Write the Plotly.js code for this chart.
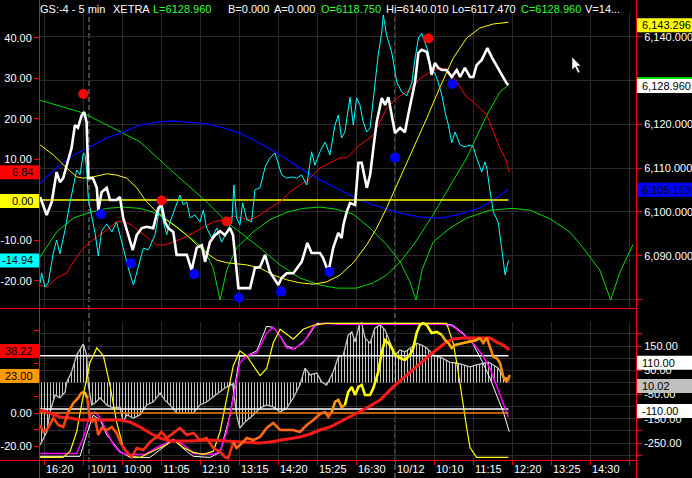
<!DOCTYPE html>
<html><head><meta charset="utf-8">
<script src="https://cdn.plot.ly/plotly-3.0.1.min.js"></script>
<style>html,body{margin:0;padding:0;background:#000;}#chart{width:692px;height:478px;}</style>
</head><body><div id="chart"></div>
<script>
// ---------------- DATA (x = 5-minute bar index, 0 = 10/10 16:20) ----------------
const xTickVals = [0,15,26,39,52,65,78,91,104,117,130,143,156,169,182];
const xTickText = ['16:20','10/11','10:00','11:05','12:10','13:15','14:20','15:25','16:30','10/12','10:10','11:15','12:20','13:25','14:30'];
const gridVals = [0,13,26,39,52,65,78,91,104,117,130,143,156,169,182,195];
const daySeparators = [15,117];

const headerParts = ['GS:-4 - 5 min','XETRA','L=6128.960','B=0.000','A=0.000','O=6118.750','Hi=6140.010','Lo=6117.470','C=6128.960','V=14...'];
const headerGreen = [false,false,true,false,false,true,false,false,true,false];

// price (right scale)
const price = [[-1.3,6103.4],[0.9,6099.3],[2.6,6102.3],[4.2,6109.1],[5.3,6106.8],[6.4,6107.7],[7.6,6110.7],[9.2,6114.6],[10.3,6119.8],[11.3,6119.2],[12.6,6122.1],[13.4,6122.8],[14.2,6120.5],[14.8,6107.7],[16.3,6107.7],[17.6,6105.5],[18.1,6100.4],[19.2,6104.5],[20.9,6105.5],[22,6102.7],[24.2,6102.7],[25.3,6103.4],[26.4,6098.6],[28.1,6094.7],[29.6,6091.3],[30.9,6094.7],[32.6,6096.3],[34.2,6096.6],[36.4,6096.3],[38.1,6100.9],[39.2,6101.6],[40.3,6097.7],[41.4,6096.3],[43.1,6095.4],[44.2,6090.2],[47.6,6090.2],[49.2,6086.7],[50.9,6091.8],[52.6,6092.4],[53.7,6088.6],[55.3,6093.1],[57,6094.7],[58.7,6095.6],[60.3,6094.7],[62,6096.3],[63,6094.7],[64.2,6086.7],[64.8,6082.6],[68.7,6082.6],[70.3,6087.2],[72,6087.4],[73.7,6090.2],[75.3,6086.3],[78.1,6083.3],[79.2,6084.9],[80.9,6086],[83.1,6086],[85.9,6088.6],[87.8,6092.9],[89.2,6090.6],[92,6090.6],[93,6089.5],[94.8,6086.3],[96.4,6091.8],[98.1,6095.2],[99.2,6094],[99.8,6097],[100.9,6100],[102,6102],[103.7,6101.6],[104.8,6111.2],[105.9,6111.2],[107.6,6105.5],[108.7,6108.4],[109.8,6114.6],[110.9,6120.5],[112.6,6126],[113.7,6124.4],[114.8,6126.2],[115.9,6122.1],[117,6118],[118.7,6119.2],[120.3,6118.2],[121.4,6122.1],[122.6,6126],[123.7,6129.7],[124.8,6136.3],[125.9,6137],[127.6,6136.5],[128.7,6133.5],[129.2,6131.3],[130.3,6134],[131.4,6132.9],[132.6,6132.4],[134.2,6132.4],[135.9,6130.8],[137.6,6132.4],[138.7,6130.8],[140.3,6132.9],[142,6130.8],[143.1,6130.8],[144.2,6133.5],[145.9,6134.7],[147.8,6137.4],[149.2,6135.4],[150.9,6133.5],[152.6,6131.3],[154.2,6129.4],[154.8,6128.96]];

// cyan oscillator (left scale)
const cyanOsc = [[-1.3,-20.5],[-0.8,-18.0],[0.3,-21.5],[1.4,-20.5],[3.1,-13.1],[4.2,-9.9],[5.3,-13.3],[7,-7.4],[8.7,-0.5],[10.9,7.4],[12,6.2],[13.1,11.6],[13.7,11.1],[14.2,7.4],[14.8,0],[15.9,-4.2],[17,-8.1],[18.1,-13.8],[19.2,-7.7],[20.9,-5.9],[22.6,-7.9],[24.2,-5.4],[25.9,-10.4],[28.1,-16.8],[29.8,-21],[31.4,-16.8],[33.1,-11.9],[34.8,-12.3],[37,-8.6],[38.7,-1.2],[39.8,-5.4],[40.9,-8.6],[42,-5.4],[43.7,-2],[45.3,1.2],[46.4,-1.2],[47.6,-0.5],[48.7,-4.4],[50.3,-3.7],[52,-5.4],[53.1,-2.5],[54.2,-6.9],[55.9,-9.4],[57.6,-6.9],[59.2,-10.4],[60.9,-7.9],[62.6,-5.4],[63.3,3.7],[64.2,-4.4],[65.3,-6.2],[66.2,-0.7],[67.6,-4.9],[69.2,-5.4],[70.3,2.5],[72,3],[73.7,8.1],[75.3,10.4],[77,11.6],[79.2,6.2],[80.9,5.4],[82.6,5.7],[84.2,5.4],[85.9,6.2],[87.6,3.7],[89.2,11.9],[90.3,8.6],[92,11.9],[93.7,14.3],[95.3,11.1],[97,18.5],[98.1,21],[99.2,15.3],[100.3,16.8],[102,25.4],[103.1,18.5],[104.2,25.2],[105.3,23.5],[106.4,19.3],[107.6,16.8],[108.7,17.8],[110.3,29.1],[111.4,35.8],[112.6,41.5],[113.1,45.7],[114.2,40.7],[115.9,36.5],[117.6,29.1],[119.2,26.7],[120.9,25.7],[122.6,28.9],[123.5,34.1],[124.8,40],[125.9,41.2],[127,39],[128.1,36.5],[129.2,31.6],[130.3,31.4],[131.4,29.1],[132.6,25.9],[133.7,21.7],[134.8,18.5],[135.9,14.1],[137,16.8],[138.7,13.6],[140.3,13.1],[142,13.6],[143.1,13.1],[144.2,10.4],[145.9,6.9],[147,9.4],[147.6,7.9],[148.7,2],[149.8,-3],[151.4,-5.4],[152.6,-12.8],[153.7,-18.5],[154.8,-14.94]];

// red average (left scale)
const redAvg = [[-1.3,-21],[0.9,-21.5],[4.2,-19.3],[7.6,-18],[9.8,-15.3],[13.1,-11.9],[15.3,-10.4],[18.1,-8.9],[20.9,-7.4],[24.2,-5.4],[26.4,-5.2],[29.2,-6.2],[32,-7.9],[34.8,-9.4],[37.6,-11.1],[40.3,-11.1],[43.1,-10.4],[46.4,-9.4],[49.8,-8.1],[53.1,-6.7],[56.4,-5.4],[59.8,-4.9],[63.1,-4],[65.3,-4.4],[68.7,-4.9],[72,-3.7],[75.3,-2],[78.7,-0.5],[82,2],[85.3,3.7],[88.7,5.4],[92,7.9],[95.3,9.1],[98.7,10.4],[100.9,10.4],[103.1,11.9],[105.3,13.6],[107.6,14.8],[109.8,16],[112,19.3],[114.2,22.7],[116.4,24.2],[118.7,25.7],[122,27.2],[125.3,29.9],[128.7,31.6],[132,32.6],[134.2,32.3],[135.9,30.9],[137.6,29.1],[139.2,27.2],[140.9,25.4],[143.1,24.2],[145.3,22.7],[147.6,21],[149.8,16.8],[152,12.8],[153.7,10.4],[155.1,6.84]];
const topZeroLevel = 0;

// smooth cycle curves (right scale)
const yellowCycle = [[-1.3,6115.3],[3.1,6113.0],[7.6,6110.0],[10.9,6108.0],[13.1,6107.7],[16.4,6108.0],[20.9,6108.7],[24.2,6108.4],[27.6,6107.7],[30.9,6105.5],[34.2,6102.3],[37.6,6100.0],[40.9,6098.2],[44.2,6096.6],[47.6,6094.7],[50.9,6092.5],[54.2,6090.6],[57.6,6089.0],[60.9,6088.4],[64.2,6088.1],[67.6,6087.9],[72,6087.2],[76.4,6085.6],[80.9,6084.5],[85.3,6083.8],[89.8,6083.5],[94.2,6084.0],[98.7,6085.6],[103.1,6088.4],[107.6,6092.5],[110.9,6096.3],[114.2,6100.9],[118.7,6107.7],[123.1,6114.6],[127.6,6121.4],[132,6128.5],[136.4,6135.1],[140.9,6139.7],[145.3,6142.0],[149.8,6142.9],[154.8,6143.296]];
const blueCycle = [[-1.3,6106.6],[4.2,6110.0],[9.8,6113.0],[15.3,6114.8],[20.9,6116.9],[26.4,6118.2],[32,6119.8],[37.6,6120.5],[43.1,6120.8],[48.7,6120.5],[54.2,6120.1],[59.8,6119.2],[65.3,6118.0],[72,6115.7],[78.7,6113.0],[85.3,6110.0],[92,6107.3],[98.7,6105.0],[105.3,6102.7],[112,6101.1],[118.7,6099.7],[125.3,6098.8],[132,6098.6],[138.7,6099.5],[145.3,6100.9],[150.9,6103.2],[154.8,6105.163]];
const greenCycle = [[-1.3,6125.5],[13,6122.6],[26.3,6118.0],[32,6116.0],[43,6109.1],[54.2,6102.3],[60.9,6097.7],[72,6091.8],[78.7,6087.9],[85.3,6084.9],[92,6083.3],[97.6,6082.6],[104.2,6082.6],[109.8,6083.8],[114.2,6085.6],[118.7,6088.6],[123.1,6092.4],[129.7,6099.3],[135.3,6105.9],[140.9,6112.3],[147.6,6122.1],[152,6127.4],[154.8,6128.96]];
const greenArcs = [[-1.3,6089.7],[4.2,6095.4],[9.8,6098.6],[15.3,6099.9],[20.9,6100.8],[26.4,6101.1],[32,6100.8],[37.6,6099.7],[43.1,6097.0],[48.7,6094.0],[53.1,6091.8],[56.4,6087.2],[58.7,6079.9],[60.9,6086.7],[64.2,6091.8],[69.7,6095.4],[75.3,6098.2],[80.9,6099.9],[86.3,6100.8],[92,6101.1],[97.6,6100.6],[103,6099.5],[108.7,6096.3],[114.2,6092.5],[118.7,6088.6],[122,6084.0],[124,6079.9],[126,6086.7],[129.7,6093.1],[135.3,6096.3],[140.9,6098.6],[148.7,6100.4],[156.3,6100.8],[162,6100.4],[168.7,6098.4],[175.3,6095.4],[179.7,6091.8],[185.3,6086.7],[188.9,6079.9],[192,6086.3],[196.3,6092.5]];
const highDots = [[13.1,6126.9],[39.2,6102.6],[60.9,6097.8],[128.1,6139.6]];
const lowDots = [[19,6099.5],[29,6088.3],[50,6085.8],[65,6080.4],[79,6081.8],[95.1,6086.3],[117,6112.4],[136.1,6129.2]];

// lower panel
const histValues = [[-1.3,-258],[0.9,-205],[2,-122],[3.7,-52],[5.3,-64],[7,-40],[7.6,2],[9.2,43],[10.9,113],[12.6,146],[13.1,158],[14.2,113],[14.8,-11],[15.9,-93],[17,-85],[18.7,-64],[20.9,-93],[23.1,-106],[25.3,-101],[26.4,-163],[27.6,-134],[29.8,-147],[32,-134],[34.2,-93],[36.4,-81],[38.7,-44],[40.3,-73],[42,-93],[44.2,-126],[49.8,-126],[52,-93],[54.2,-81],[56.4,-60],[58.7,-40],[60.3,-23],[62.9,-7],[64.2,-134],[65.3,-188],[67,-163],[69.8,-134],[72,-106],[74.2,-93],[76.4,-101],[78.7,-122],[80.9,-106],[83.1,-64],[85.3,-11],[87,59],[88.7,31],[90.9,39],[92.6,2],[94.2,-11],[96.4,43],[98.1,105],[99.8,113],[101.4,195],[102.6,208],[103.7,167],[105.1,237],[105.9,245],[107,183],[108.7,162],[110.3,224],[112,237],[113.7,216],[115.3,167],[117,113],[118.7,134],[120.3,125],[122.6,146],[124.2,162],[125.9,154],[127.6,142],[129.8,113],[132.6,101],[135.3,83],[137.6,80],[139.8,72],[142,64],[144.2,72],[146.4,80],[148.1,83],[149.8,72],[151.4,59],[153.1,22],[154.2,18],[155.1,10.02]];
const bandLevels = [110,-110];
const stochMagenta = [[-1.3,4.3],[10.9,4.3],[13.1,15.9],[15.3,32.6],[17,34.8],[18.7,30.4],[20.9,20.3],[23.1,10.9],[25.3,5.1],[27.6,3.6],[33.7,3.6],[37.6,8.7],[43.1,14.5],[46.4,10.9],[49.8,4.3],[56.4,3.6],[58.7,5.8],[60.9,20.3],[63.1,44.9],[65.3,71],[67.6,76.1],[70.9,78.3],[74.2,92.8],[76.4,97.1],[78.7,90.6],[80.9,81.9],[83.1,81.2],[86.4,85.5],[89.8,97.8],[93.1,100],[98.7,99.3],[133,99.3],[136.3,97.8],[139.7,92],[143,85.5],[146.3,76.1],[148.7,66.7],[150.9,54.3],[153.1,42],[154.8,31.2]];
const stochWhite = [[-1.3,2.2],[12,2.2],[14.2,18.1],[16.4,32.6],[18.7,29],[20.9,18.1],[25.3,5.8],[28.7,1.4],[35.3,1.4],[39.8,8.7],[43.1,14.5],[47.6,5.8],[49.8,2.2],[55.3,1.4],[58.7,5.1],[62,32.6],[65.3,76.1],[67.6,76.1],[70.9,79.7],[74.2,97.8],[76.4,97.1],[78.7,90.6],[80.9,83.3],[83.7,81.2],[87.6,89.1],[90.9,100],[133,100],[136.3,98.6],[139.7,92.8],[143,84.8],[146.3,71],[148.7,59.4],[150.9,47.1],[153.1,34.8],[155.1,20.3]];
const stochYellow = [[-1.3,1.4],[6.3,1.4],[8.7,5.8],[10.9,20.3],[13.1,47.1],[15.3,71],[17.6,81.9],[19.8,76.1],[22,54.3],[24.2,27.5],[26.4,8.7],[28.7,2.2],[32,1.4],[36.4,5.8],[40.9,10.9],[43.1,14.5],[46.4,8.7],[49.8,5.1],[53.1,3.6],[56.4,5.8],[58.7,20.3],[60.9,44.9],[63.1,68.8],[65.3,79.7],[67.6,76.1],[69.8,68.8],[72,61.6],[74.2,66.7],[76.4,85.5],[78.7,95.7],[80.9,92],[83.1,88.4],[86.4,95.7],[89.8,98.6],[94.2,100],[134.2,100],[135.3,92.8],[136.4,85.5],[137.6,71],[138.7,54.3],[139.8,39.9],[140.9,23.2],[142,8.7],[144.2,1.4],[154.8,1.4]];
const momentum = [[-1.3,-7.3],[-0.2,-11.5],[1.4,-9.1],[3.1,-3],[4.8,-7.3],[6.4,-8.5],[8.1,0.6],[9.8,6.1],[11.4,9.1],[12.6,12.7],[13.7,12.1],[14.4,9.1],[15.1,-1.2],[15.9,-5.5],[17,-3],[18.1,-13.3],[19.2,-9.1],[20.9,-10.3],[22.6,-8.5],[24.2,-12.1],[25.9,-19.4],[27.6,-23.6],[29.2,-26.7],[30.9,-21.2],[33.1,-22.4],[35.3,-17.6],[37.6,-14.5],[39.2,-11.5],[40.9,-15.2],[43.1,-12.1],[45.3,-9.1],[47.6,-13.3],[49.8,-12.1],[52,-16.4],[54.2,-15.2],[56.4,-21.2],[58.7,-23.6],[60.3,-26.7],[61.4,-27.3],[63.1,-17.6],[64.2,-21.2],[65.3,-19.4],[67.6,-15.2],[69.8,-16.4],[72,-14.5],[74.2,-9.1],[76.4,-6.1],[78.7,-10.3],[83.1,-10.3],[85.3,-11.5],[87.6,-7.3],[89.8,-4.2],[92,-0.6],[93.7,0.6],[94.8,-2.4],[95.9,0.6],[97,6.7],[98.1,7.9],[99.2,3.6],[100.3,4.8],[101.4,12.7],[102.6,15.8],[103.7,10.9],[104.8,15.8],[105.9,17],[107,10.9],[108.7,10.9],[109.8,15.2],[111.4,24.8],[112.6,37],[113.7,44.2],[114.8,42.4],[115.9,39.4],[117,35.2],[118.7,33.3],[120.3,32.1],[122,35.2],[123.1,39.4],[124.2,48.5],[125.3,53.3],[126.4,54.5],[127.6,53.3],[129.2,48.5],[130.9,49.1],[132.6,47.3],[133.7,44.2],[134.8,42.4],[135.9,39.4],[137,41.2],[139.8,42.4],[142,43],[144.2,44.2],[145.3,45.5],[146.4,42.4],[147.6,45.5],[148.7,39.4],[149.8,33.9],[150.9,33.3],[152,30.3],[153.1,21.8],[154.2,18.8],[155.3,23]];
const momentumSegBreaks = [0,6,9,11,20,39,55,59,84,92,101];
const momentumAvg = [[-1.3,1.8],[2,0],[5.3,-2.4],[8.7,-3],[12,-4.2],[20.9,-4.2],[25.3,-4.2],[28.7,-5.5],[32,-8.5],[35.3,-12.1],[38.7,-15.2],[42,-17],[48.7,-17],[55.3,-16.4],[62,-17],[65.3,-17.6],[72,-18.2],[75.3,-17.6],[78.7,-16.4],[85.3,-14.5],[88.7,-12.7],[92,-10.3],[95.3,-8.5],[98.7,-5.5],[103.1,-1.2],[107.6,3],[112,7.9],[116.4,15.8],[120.9,23],[125.3,30.3],[128.7,35.2],[132,40],[134.2,43],[136.4,44.8],[139.8,45.5],[143.1,45.5],[146.4,45.5],[148.7,45.5],[150.9,43],[153.1,41.2],[155.1,38.22]];
const lowerZeroLevel = 0;

const topLeftTicks = [40,30,20,10,0,-10,-20];
const topLeftLabeled = [40,30,20,10,-10,-20];
const topRightTicks = [6140,6130,6120,6110,6100,6090,6080];
const topRightLabeled = [6140,6120,6110,6100,6090];
const lowLeftTicks = [50,40,30,20,10,0,-10,-20];
const lowLeftLabeled = [0,-20];
const lowRightTicks = [200,150,100,50,0,-50,-100,-150,-200,-250,-300];
const lowRightLabeled = [150,50,-50,-150,-250];

// ---------------- STYLE / LAYOUT ----------------
const W=692,H=478,ML=40,MR=56,MT=13,MB=18;
const PW=W-ML-MR, PH=H-MT-MB;
const pxX = p => (p-ML)/PW;
const pxY = p => (H-MB-p)/PH;
const FONT = 'Liberation Sans, Arial, sans-serif';
const GRID = '#2a2a2a';
const RED = '#ff0000';
const tickFont = {family:FONT,size:11,color:'#ffffff'};
const xs = p=>p.map(v=>v[0]), ys = p=>p.map(v=>v[1]);
const last = p=>p[p.length-1][1];
const firstX = price[0][0], lastX = price[price.length-1][0];

function f2(v){return v.toFixed(2);}
function f3c(v){const s=v.toFixed(3);const [i,d]=s.split('.');return i.replace(/\B(?=(\d{3})+(?!\d))/g,',')+'.'+d;}

function line(pairs, xa, ya, color, width){
  return {type:'scatter',mode:'lines',x:xs(pairs),y:ys(pairs),xaxis:xa,yaxis:ya,line:{color:color,width:width},hoverinfo:'skip'};
}
function level(v, xa, ya, color, width){
  return {type:'scatter',mode:'lines',x:[firstX,lastX],y:[v,v],xaxis:xa,yaxis:ya,line:{color:color,width:width},hoverinfo:'skip'};
}

const traces = [];
traces.push(line(greenArcs,'x2','y','#00dd00',1));
traces.push(line(greenCycle,'x2','y','#00dd00',1));
traces.push(line(blueCycle,'x2','y','#0000ff',1.3));
traces.push(line(yellowCycle,'x2','y','#ffff00',1));
traces.push(level(topZeroLevel,'x2','y2','#ffff00',1.5));
traces.push(line(redAvg,'x2','y2','#ff0000',1));
traces.push(line(cyanOsc,'x2','y2','#00ffff',1));
traces.push(line(price,'x2','y6','#ffffff',2.6));
traces.push({type:'scatter',mode:'markers',x:xs(highDots),y:ys(highDots),xaxis:'x2',yaxis:'y6',marker:{color:'#ff0000',size:10,line:{width:0}},hoverinfo:'skip'});
traces.push({type:'scatter',mode:'markers',x:xs(lowDots),y:ys(lowDots),xaxis:'x2',yaxis:'y6',marker:{color:'#0000ff',size:10,line:{width:0}},hoverinfo:'skip'});
traces.push({type:'scatter',mode:'lines',x:xs(histValues),y:ys(histValues),xaxis:'x',yaxis:'y3',line:{color:'#c4c4c4',width:1.3},
  fill:'tozeroy',fillcolor:'rgba(0,0,0,0)',fillpattern:{shape:'|',size:3,solidity:0.34,fgcolor:'#c4c4c4',bgcolor:'rgba(0,0,0,0)'},hoverinfo:'skip'});
bandLevels.forEach(v=>traces.push(level(v,'x','y3','#ffffff',1.5)));
traces.push(line(stochWhite,'x','y4','#ffffff',1));
traces.push(line(stochMagenta,'x','y4','#ff00ff',1.5));
traces.push(line(stochYellow,'x','y4','#ffff00',1.2));
traces.push(level(lowerZeroLevel,'x','y5','#ff8000',1.5));
traces.push(line(momentumAvg,'x','y5','#ff1a1a',3));
const segColors = ['#ff4010','#ff8000','#ffc000','#ff4a12','#ff2c14','#ff6a10','#ff9a00','#ffff00','#ffaa00','#ff8c00'];
for(let k=0;k<momentumSegBreaks.length-1;k++){
  traces.push(line(momentum.slice(momentumSegBreaks[k],momentumSegBreaks[k+1]+1),'x','y5',segColors[k],2.6));
}

const shapes = [], annotations = [];
shapes.push({type:'line',xref:'paper',yref:'paper',x0:pxX(39.5),x1:pxX(39.5),y0:pxY(478),y1:pxY(0),line:{color:RED,width:1},layer:'above'});
shapes.push({type:'line',xref:'paper',yref:'paper',x0:pxX(636.5),x1:pxX(636.5),y0:pxY(478),y1:pxY(0),line:{color:RED,width:1},layer:'above'});
shapes.push({type:'line',xref:'paper',yref:'paper',x0:pxX(0),x1:pxX(636.5),y0:pxY(308.5),y1:pxY(308.5),line:{color:RED,width:1},layer:'above'});
shapes.push({type:'line',xref:'paper',yref:'paper',x0:pxX(0),x1:pxX(636.5),y0:pxY(460.5),y1:pxY(460.5),line:{color:RED,width:1},layer:'above'});
daySeparators.forEach(v=>shapes.push({type:'line',xref:'x',yref:'paper',x0:v,x1:v,y0:pxY(478),y1:pxY(13),line:{color:'#8a8a8a',width:1,dash:'5px,3px'},layer:'below'}));
// mouse pointer seen in the screenshot
shapes.push({type:'path',xref:'paper',yref:'paper',xsizemode:'pixel',ysizemode:'pixel',xanchor:pxX(572),yanchor:pxY(57),
  path:'M0,0 L0,-13 L3,-10 L6,-16 L8,-15 L5,-9 L9,-9 Z',fillcolor:'#ffffff',line:{color:'#000000',width:0.5},layer:'above'});

function box(yref, value, side, fill, text, down){
  const x0 = side==='left'?pxX(0):pxX(637), x1 = side==='left'?pxX(39):pxX(692);
  shapes.push({type:'rect',layer:'above',xref:'paper',x0:x0,x1:x1,yref:yref,ysizemode:'pixel',yanchor:value,y0:-7-down,y1:7-down,fillcolor:fill,line:{width:0}});
  if(text!==null) annotations.push({xref:'paper',x:side==='left'?pxX(34):pxX(640.5),xanchor:side==='left'?'right':'left',
    yref:yref,y:value,yanchor:'middle',yshift:-down,text:text,showarrow:false,borderpad:0,font:{family:FONT,size:11,color:'#000000'}});
}
box('y2', last(redAvg), 'left', '#ff0000', f2(last(redAvg)), 0);
box('y2', topZeroLevel, 'left', '#ffff00', f2(topZeroLevel), 1);
box('y2', last(cyanOsc), 'left', '#00ffff', f2(last(cyanOsc)), 0);
box('y', last(yellowCycle), 'right', '#ffff00', f3c(last(yellowCycle)), 3);
box('y', last(greenCycle), 'right', '#00dd00', null, -1);
box('y', last(price), 'right', '#ffffff', f3c(last(price)), 1);
box('y', last(blueCycle), 'right', '#0000ff', f3c(last(blueCycle)), 0.5);
box('y5', last(momentumAvg), 'left', '#ff0000', f2(last(momentumAvg)), 1);
box('y5', last(momentum), 'left', '#ff9900', f2(last(momentum)), 1);
box('y3', bandLevels[0], 'right', '#ffffff', f2(bandLevels[0]), 7);
box('y3', last(histValues), 'right', '#c0c0c0', f2(last(histValues)), 6);
box('y3', bandLevels[1], 'right', '#ffffff', f2(bandLevels[1]), 2);

xTickVals.forEach((v,i)=>annotations.push({xref:'x',x:v,xanchor:'left',xshift:1,yref:'paper',y:0,yanchor:'middle',yshift:-9,
  text:xTickText[i],showarrow:false,borderpad:0,font:tickFont}));
const headerPx = [39,112,152,227,273,320,385,451,520,584];
headerParts.forEach((t,i)=>annotations.push({xref:'paper',x:pxX(headerPx[i]),xanchor:'left',yref:'paper',y:1,yanchor:'middle',yshift:4,
  text:t,showarrow:false,borderpad:0,font:{family:FONT,size:11,color:headerGreen[i]?'#33ff33':'#ffffff'}}));

const xRange = [-4/3, 592/3];
const topDom = [pxY(308), 1], lowDom = [0, pxY(322)];
const rRange = [6078.06, 6145.41], lRange = [-26.67, 46.17];
const llRange = [-28.48, 55.15], lrRange = [-320, 249.1], sRange = [-0.5, 101];

const layout = {
  width:W,height:H,margin:{l:ML,r:MR,t:MT,b:MB,pad:0},
  paper_bgcolor:'#000000',plot_bgcolor:'#000000',showlegend:false,
  xaxis:{domain:[0,1],anchor:'y3',range:xRange,tickmode:'array',tickvals:gridVals,showticklabels:false,ticks:'outside',ticklen:4,tickcolor:RED,
    showgrid:true,gridcolor:GRID,gridwidth:1,zeroline:false,showline:false},
  xaxis2:{domain:[0,1],anchor:'y',matches:'x',range:xRange,tickmode:'array',tickvals:gridVals,showticklabels:false,ticks:'',
    showgrid:true,gridcolor:GRID,gridwidth:1,zeroline:false,showline:false},
  yaxis:{domain:topDom,anchor:'x2',side:'right',range:rRange,tickmode:'array',tickvals:topRightTicks,
    ticktext:topRightTicks.map(v=>topRightLabeled.includes(v)?f3c(v):''),ticks:'outside',ticklen:5,tickcolor:RED,tickfont:tickFont,
    showgrid:true,gridcolor:GRID,zeroline:false,showline:false},
  yaxis2:{overlaying:'y',anchor:'x2',side:'left',range:lRange,tickmode:'array',tickvals:topLeftTicks,
    ticktext:topLeftTicks.map(v=>topLeftLabeled.includes(v)?f2(v):''),
    ticks:'outside',ticklen:5,tickcolor:RED,tickfont:tickFont,showgrid:false,zeroline:false,showline:false},
  yaxis6:{overlaying:'y',anchor:'x2',range:rRange,visible:false},
  yaxis3:{domain:lowDom,anchor:'x',side:'right',range:lrRange,tickmode:'array',tickvals:lowRightTicks,
    ticktext:lowRightTicks.map(v=>lowRightLabeled.includes(v)?f2(v):''),ticks:'outside',ticklen:5,tickcolor:RED,tickfont:tickFont,
    showgrid:true,gridcolor:GRID,zeroline:false,showline:false},
  yaxis4:{overlaying:'y3',anchor:'x',range:sRange,visible:false},
  yaxis5:{overlaying:'y3',anchor:'x',side:'left',range:llRange,tickmode:'array',tickvals:lowLeftTicks,
    ticktext:lowLeftTicks.map(v=>lowLeftLabeled.includes(v)?f2(v):''),ticks:'outside',ticklen:5,tickcolor:RED,tickfont:tickFont,
    showgrid:false,zeroline:false,showline:false},
  shapes:shapes,annotations:annotations
};
Plotly.newPlot('chart',traces,layout,{staticPlot:true,displayModeBar:false});
</script></body></html>
